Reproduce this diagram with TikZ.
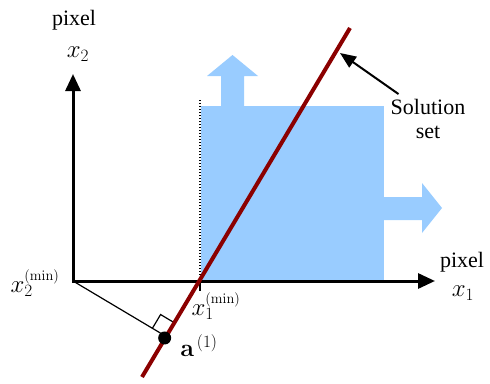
\documentclass[tikz,border=0pt]{standalone}
\usepackage[no-math]{fontspec}
\setmainfont{Liberation Serif}
\usetikzlibrary{arrows.meta,calc}
\definecolor{solblue}{RGB}{153,204,255}
\definecolor{linered}{RGB}{139,0,0}
\begin{document}
\begin{tikzpicture}[x=1pt,y=-1pt,
  lbl/.style={inner sep=0pt, font=\fontsize{22}{24}\selectfont},
  mlbl/.style={inner sep=0pt, font=\fontsize{27}{29}\selectfont},
  axisline/.style={line width=3pt, {Triangle[length=17pt,width=15pt]}-{Triangle[length=17pt,width=15pt]}},
  thin/.style={line width=1.2pt},
  sol/.style={draw=linered, line width=4pt}]
\useasboundingbox (0,0) rectangle (490,383);
% solution region and growth arrows
\fill[solblue] (201,106) rectangle (384,281);
\fill[solblue] (221,107) -- (221,76) -- (207,76) -- (232.5,55) -- (258,76) -- (244,76) -- (244,107) -- cycle;
\fill[solblue] (383,197) -- (422,197) -- (422,183) -- (442,208) -- (422,233) -- (422,220) -- (383,220) -- cycle;
% coordinates
\coordinate (O) at (73,281);
\coordinate (X1min) at (200,281);
\coordinate (Ltop) at (350,28);
\coordinate (Lbot) at (142,377);
\coordinate (yend) at (73,74);
\coordinate (xend) at (435,281);
\coordinate (dottop) at (200,99);
\coordinate (tickend) at (200,291);
% dotted boundary
\draw[line width=1.5pt, dash pattern=on 1.5pt off 1.5pt] (X1min) -- (dottop);
% axes
\draw[axisline] (yend) -- (O) -- (xend);
\draw[line width=2.5pt] (X1min) -- (tickend);
% perpendicular
\coordinate (F) at ($(Ltop)!(O)!(Lbot)$);
\coordinate (Fa) at ($(F)!16pt!(O)$);
\coordinate (Fb) at ($(F)!16pt!(Ltop)$);
\coordinate (Fc) at ($(Fa)+(Fb)-(F)$);
\draw[thin] (O) -- (F);
\draw[thin] (Fa) -- (Fc) -- (Fb);
% solution line
\draw[sol] (Lbot) -- (Ltop);
\node[circle, fill=black, inner sep=0pt, minimum size=13pt] (adot) at ([shift={(-1.5,1.5)}]F) {};
% labels
\node[lbl] (pix2) at (74,20) {pixel};
\node[mlbl] (x2) at (78,54) {$x_2$};
\node[mlbl] (x2min) at (35,283) {$x_2^{\scriptscriptstyle(\mathrm{min})}$};
\node[mlbl] (x1min) at (216,306) {$x_1^{\scriptscriptstyle(\mathrm{min})}$};
\node[mlbl] (alab) at (199,346) {$\mathbf{a}^{\,(1)}$};
\node[lbl] (pix1) at (462,262) {pixel};
\node[mlbl] (x1) at (463,293) {$x_1$};
\node[lbl, align=center] (soltext) at (428,119) {Solution\\set};
\coordinate (solpt) at (340,53);
\draw[line width=2pt, -{Triangle[length=16pt,width=13pt]}] ([shift={(8,-5)}]soltext.north west) -- (solpt);
\end{tikzpicture}
\end{document}
